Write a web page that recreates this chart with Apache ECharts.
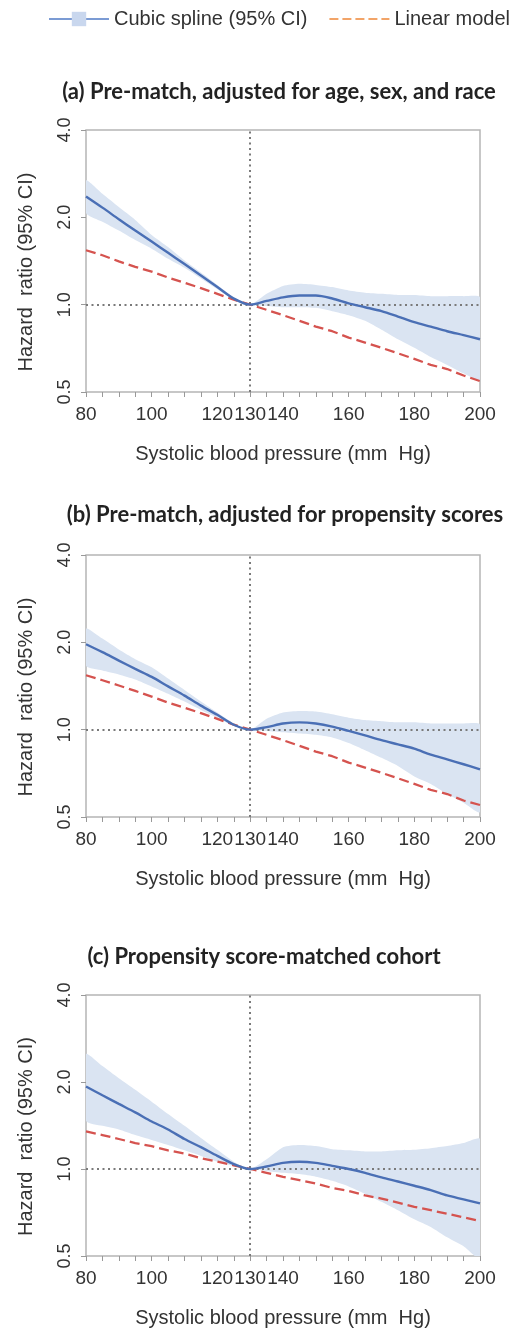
<!DOCTYPE html>
<html><head><meta charset="utf-8">
<script src="https://cdn.jsdelivr.net/npm/echarts@6/dist/echarts.min.js"></script>
<style>html,body{margin:0;padding:0;background:#fff}#c{width:526px;height:1332px}</style>
</head><body><div id="c"></div>
<script>
// ---- data ----
const sbp = [80,85,90,95,100,105,110,115,120,125,130,135,140,145,150,155,160,165,170,175,180,185,190,195,200];
const xTickLabels = [80,100,120,130,140,160,180,200];
const panelTitles = [
  '(a) Pre-match, adjusted for age, sex, and race',
  '(b) Pre-match, adjusted for propensity scores',
  '(c) Propensity score-matched cohort'
];
const splineName = 'Cubic spline (95% CI)';
const linearName = 'Linear model';
const xName = 'Systolic blood pressure (mm  Hg)';
const yName = 'Hazard  ratio (95% CI)';

const splineA = [2.36,2.16,1.97,1.80,1.65,1.51,1.38,1.26,1.15,1.05,1.00,1.03,1.06,1.075,1.075,1.05,1.01,0.98,0.95,0.91,0.87,0.84,0.81,0.785,0.76];
const upperA  = [2.68,2.41,2.17,1.96,1.74,1.58,1.42,1.29,1.17,1.06,1.00,1.09,1.16,1.18,1.17,1.15,1.12,1.10,1.09,1.08,1.08,1.07,1.07,1.07,1.06];
const lowerA  = [2.07,1.93,1.80,1.67,1.56,1.44,1.34,1.23,1.13,1.04,1.00,0.99,0.98,0.98,0.975,0.95,0.92,0.88,0.82,0.76,0.71,0.66,0.62,0.58,0.55];
const linearA = [1.54,1.48,1.41,1.35,1.30,1.24,1.19,1.14,1.09,1.04,1.00,0.96,0.92,0.88,0.84,0.81,0.77,0.74,0.71,0.68,0.65,0.62,0.60,0.57,0.545];

const splineB = [1.97,1.85,1.73,1.62,1.52,1.41,1.31,1.21,1.125,1.04,1.00,1.02,1.05,1.06,1.05,1.025,0.99,0.955,0.92,0.89,0.86,0.82,0.79,0.76,0.73];
const upperB  = [2.23,2.06,1.89,1.75,1.64,1.50,1.37,1.25,1.145,1.05,1.00,1.09,1.145,1.16,1.155,1.13,1.10,1.08,1.07,1.06,1.06,1.05,1.05,1.05,1.04];
const lowerB  = [1.66,1.60,1.55,1.49,1.41,1.33,1.25,1.17,1.10,1.03,1.00,0.99,0.98,0.97,0.96,0.94,0.90,0.85,0.80,0.75,0.69,0.65,0.60,0.56,0.52];
const linearB = [1.54,1.48,1.42,1.36,1.30,1.24,1.19,1.14,1.09,1.04,1.00,0.96,0.92,0.88,0.84,0.81,0.77,0.74,0.71,0.68,0.65,0.62,0.60,0.57,0.55];

const splineC = [1.93,1.80,1.68,1.57,1.46,1.37,1.27,1.19,1.11,1.04,1.00,1.02,1.05,1.06,1.05,1.025,1.00,0.97,0.935,0.905,0.875,0.845,0.81,0.785,0.76];
const upperC  = [2.50,2.27,2.06,1.88,1.71,1.55,1.41,1.28,1.165,1.06,1.00,1.08,1.19,1.21,1.20,1.17,1.16,1.15,1.15,1.16,1.165,1.18,1.20,1.23,1.27];
const lowerC  = [1.47,1.41,1.37,1.31,1.26,1.21,1.16,1.11,1.06,1.025,1.00,0.985,0.97,0.96,0.94,0.91,0.87,0.82,0.77,0.72,0.67,0.63,0.58,0.54,0.49];
const linearC = [1.35,1.31,1.27,1.23,1.20,1.16,1.13,1.09,1.06,1.03,1.00,0.97,0.94,0.915,0.89,0.86,0.84,0.81,0.79,0.765,0.74,0.72,0.70,0.68,0.66];

// ---- layout / style ----
const panels = [
  {spline: splineA, lower: lowerA, upper: upperA, linear: linearA, top: 130, height: 262, titleX: 279, titleY: 92},
  {spline: splineB, lower: lowerB, upper: upperB, linear: linearB, top: 555, height: 262, titleX: 285, titleY: 515},
  {spline: splineC, lower: lowerC, upper: upperC, linear: linearC, top: 995, height: 261, titleX: 264, titleY: 957}
];
const FONT = 'Liberation Sans, Arial, sans-serif';
const BLUE = '#4a6fb5', BAND = '#dae4f2', RED = '#d5534f', REF = '#7a7a7a', FRAME = '#b5b5b5', TXT = '#333';

const grids = [], xAxes = [], yAxes = [], series = [], graphics = [];
panels.forEach((p, i) => {
  grids.push({left: 86, width: 394, top: p.top, height: p.height, show: true,
    borderColor: FRAME, borderWidth: 1.5, backgroundColor: 'transparent'});
  xAxes.push({type: 'value', gridIndex: i, min: 80, max: 200, interval: 5,
    name: xName, nameLocation: 'middle', nameGap: 52,
    nameTextStyle: {fontSize: 20, color: TXT, fontFamily: FONT},
    axisLine: {show: false}, splitLine: {show: false},
    axisTick: {show: true, length: 5, lineStyle: {color: '#999', width: 1}},
    axisLabel: {fontSize: 19, color: TXT, fontFamily: FONT, margin: 13,
      formatter: v => xTickLabels.includes(v) ? String(v) : ''}});
  yAxes.push({type: 'log', logBase: 2, gridIndex: i, min: 0.5, max: 4,
    name: yName, nameLocation: 'middle', nameGap: 50, nameRotate: 90,
    nameTextStyle: {fontSize: 20, color: TXT, fontFamily: FONT, padding: [0, 22, 0, 0]},
    axisLine: {show: false}, splitLine: {show: false}, minorTick: {show: false},
    axisTick: {show: true, length: 5, lineStyle: {color: '#999', width: 1}},
    axisLabel: {fontSize: 18, color: TXT, fontFamily: FONT, rotate: 90, margin: 12,
      formatter: v => Number(v).toFixed(1)}});
  const lo = p.lower, hi = p.upper;
  series.push({type: 'custom', name: 'band' + i, xAxisIndex: i, yAxisIndex: i, silent: true, clip: true, z: 1,
    data: sbp.map((x, k) => [x, lo[k], hi[k]]),
    encode: {x: 0, y: [1, 2]},
    renderItem: (params, api) => {
      if (params.dataIndex !== 0) return null;
      const pts = [];
      for (let k = 0; k < sbp.length; k++) pts.push(api.coord([sbp[k], hi[k]]));
      for (let k = sbp.length - 1; k >= 0; k--) pts.push(api.coord([sbp[k], lo[k]]));
      return {type: 'polygon', shape: {points: pts, smooth: 0.2}, style: {fill: BAND}};
    }});
  series.push({type: 'line', name: linearName, xAxisIndex: i, yAxisIndex: i, z: 3,
    data: sbp.map((x, k) => [x, p.linear[k]]), showSymbol: false, symbol: 'none',
    itemStyle: {color: RED}, lineStyle: {color: RED, width: 2.3, type: [10, 5]}});
  series.push({type: 'line', name: splineName, xAxisIndex: i, yAxisIndex: i, z: 4,
    data: sbp.map((x, k) => [x, p.spline[k]]), showSymbol: false, symbol: 'rect', smooth: 0.3,
    itemStyle: {color: BLUE}, lineStyle: {color: BLUE, width: 2.4},
    markLine: {silent: true, symbol: ['none', 'none'], label: {show: false}, z: 2,
      lineStyle: {color: REF, width: 2, type: [2, 3.5]},
      data: [{yAxis: 1}, {xAxis: 130}]}});
  graphics.push({type: 'text', x: p.titleX, y: p.titleY,
    style: {text: panelTitles[i], align: 'center', verticalAlign: 'middle',
      font: 'bold 22px Lato, sans-serif', fill: '#222'}});
});

const chart = echarts.init(document.getElementById('c'), null, {renderer: 'canvas'});
chart.setOption({
  animation: false,
  backgroundColor: '#fff',
  legend: {top: 4, left: 43, itemWidth: 60, itemHeight: 18, itemGap: 22,
    textStyle: {fontSize: 20, color: TXT, fontFamily: FONT},
    data: [
      {name: splineName, itemStyle: {color: '#c9d7ee', borderWidth: 0}, lineStyle: {color: '#7b9bd4', width: 2}},
      {name: linearName, icon: 'path://M0,0h9v2h-9z M13,0h9v2h-9z M26,0h9v2h-9z M39,0h9v2h-9z M52,0h8v2h-8z',
        itemStyle: {color: '#f2a468'}}
    ]},
  grid: grids, xAxis: xAxes, yAxis: yAxes, series: series, graphic: graphics
});
</script></body></html>
